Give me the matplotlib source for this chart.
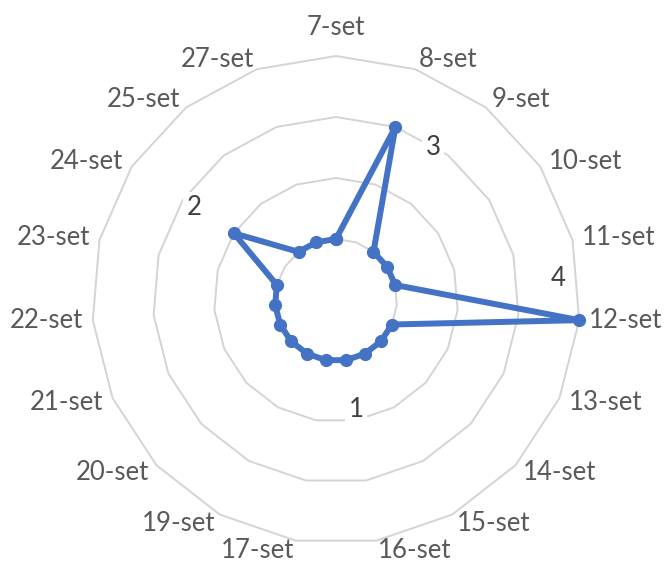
import numpy as np
import matplotlib.pyplot as plt

plt.rcParams['font.family'] = ['Lato', 'DejaVu Sans']

categories = ['7-set', '8-set', '9-set', '10-set', '11-set', '12-set', '13-set',
              '14-set', '15-set', '16-set', '17-set', '19-set', '20-set', '21-set',
              '22-set', '23-set', '24-set', '25-set', '27-set']
values = [1, 3, 1, 1, 1, 4, 1, 1, 1, 1, 1, 1, 1, 1, 1, 1, 2, 1, 1]
ring_levels = [1, 2, 3, 4]
# loose number labels on the chart: (text, angle in degrees, radius)
number_labels = [('1', 169.6, 1.82), ('2', 303.0, 2.77), ('3', 32.4, 2.97), ('4', 84.6, 3.66)]

n = len(categories)
theta = np.linspace(0, 2 * np.pi, n, endpoint=False)
theta_c = np.append(theta, theta[0])

fig = plt.figure(figsize=(6.7, 5.63), dpi=100)
ax = fig.add_axes([92 / 670, 19 / 563, 488 / 670, 488 / 563], projection='polar')
ax.set_theta_zero_location('N')
ax.set_theta_direction(-1)
ax.set_ylim(0, max(ring_levels))
ax.set_axis_off()

# polygon gridlines like excel
for lev in ring_levels:
    ax.plot(theta_c, [lev] * (n + 1), color='#d4d4d4', lw=1.4, zorder=1, clip_on=False)

vals_c = values + values[:1]
ax.plot(theta_c, vals_c, color='#4472C4', lw=4.3, marker='o', ms=8.5,
        solid_joinstyle='round', zorder=3, clip_on=False)

# category labels outside the outer ring
rmax = max(ring_levels)
for th, lab in zip(theta, categories):
    s, c = np.sin(th), np.cos(th)
    if s > 0.05:
        ha = 'left'
    elif s < -0.05:
        ha = 'right'
    else:
        ha = 'center'
    if c > 0.95:
        va, off = 'baseline', (0, 21)
    else:
        va, off = 'center', (10 * s, 10 * c)
    ax.annotate(lab, xy=(th, rmax), xytext=off, textcoords='offset pixels',
                ha=ha, va=va, fontsize=18.5, color='#595959', annotation_clip=False)

for txt, ang, r in number_labels:
    ax.text(np.deg2rad(ang), r, txt, ha='center', va='center', fontsize=18.5,
            color='#404040', zorder=2,
            bbox=dict(boxstyle='square,pad=0.15', fc='white', ec='none'))

fig.savefig('out.png', dpi=100)
